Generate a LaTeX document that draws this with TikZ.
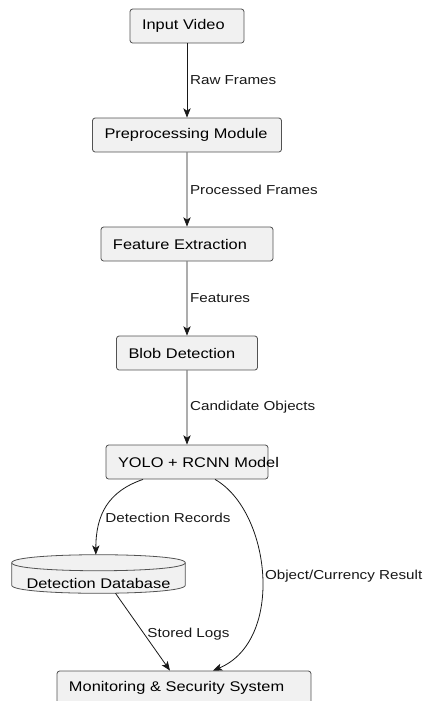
\documentclass[tikz,border=0pt]{standalone}
\usepackage{fontspec}
\setmainfont{Liberation Sans}[FakeStretch=1.17]
\usetikzlibrary{arrows.meta,positioning}
\definecolor{boxfill}{HTML}{F1F1F1}
\definecolor{linecol}{HTML}{181818}
\begin{document}
\begin{tikzpicture}[x=0.75pt,y=-0.75pt,
  box/.style={draw=linecol!75, fill=boxfill, rounded corners=2pt, line width=0.6pt,
    minimum height=25.5pt, inner xsep=9pt, align=left, font=\fontsize{10.5pt}{12pt}\selectfont},
  dbase/.style={inner sep=0pt, minimum width=129.75pt, minimum height=28.5pt},
  dbline/.style={draw=linecol!75, fill=boxfill, line width=0.6pt},
  lbl/.style={right, inner sep=2pt, text=linecol, font=\fontsize{9.75pt}{11pt}\selectfont},
  arr/.style={draw=linecol, line width=0.6pt, -{Stealth[length=7pt,width=5.5pt,inset=1.8pt]}}]
\useasboundingbox (0,0) rectangle (423,701);
\node[box, text width=67.5pt] (inp) at (187,26) {Input Video}
  [level distance=81.75pt, edge from parent/.style={arr}]
  child {node[box, text width=123.75pt] (prep) {\mbox{Preprocessing Module}}
    child {node[box, text width=111pt] (feat) {Feature Extraction}
      child {node[box, text width=87.75pt] (blob) {Blob Detection}
        child {node[box, text width=103.5pt] (yolo) {\mbox{YOLO + RCNN Model}}
          edge from parent node[lbl] {Candidate Objects}}
        edge from parent node[lbl] {Features}}
      edge from parent node[lbl] {Processed Frames}}
    edge from parent node[lbl] {Raw Frames}};
\node[dbase] (db) at (98.5,574) {};
\draw[dbline] ([yshift=-6pt]db.north west) -- ([yshift=6pt]db.south west)
  .. controls +(0,10.7) and +(0,10.7) .. ([yshift=6pt]db.south east)
  -- ([yshift=-6pt]db.north east)
  .. controls +(0,-10.7) and +(0,-10.7) .. ([yshift=-6pt]db.north west) -- cycle;
\draw[dbline, fill=none] ([yshift=-6pt]db.north west) .. controls +(0,10.7) and +(0,10.7) .. ([yshift=-6pt]db.north east);
\node[font=\fontsize{10.5pt}{12pt}\selectfont] (dbtext) at ([yshift=-6.75pt]db.center) {Detection Database};
\node[box, text width=172.5pt] (mon) at (184,688) {Monitoring \& Security System};
\draw[arr] ([xshift=-33pt]yolo.south) .. controls +(-35,12) and +(0,-40) .. node[lbl, pos=0.64, xshift=1pt] {Detection Records} ([xshift=-2pt]db.north);
\draw[arr] ([xshift=21pt]yolo.south) .. controls +(56,32) and +(72,-30) .. node[lbl, pos=0.5] {Object/Currency Result} ([xshift=21.75pt]mon.north);
\draw[arr] ([xshift=12.75pt]db.south) -- node[lbl, pos=0.53] {Stored Logs} ([xshift=-10.5pt]mon.north);
\end{tikzpicture}
\end{document}
